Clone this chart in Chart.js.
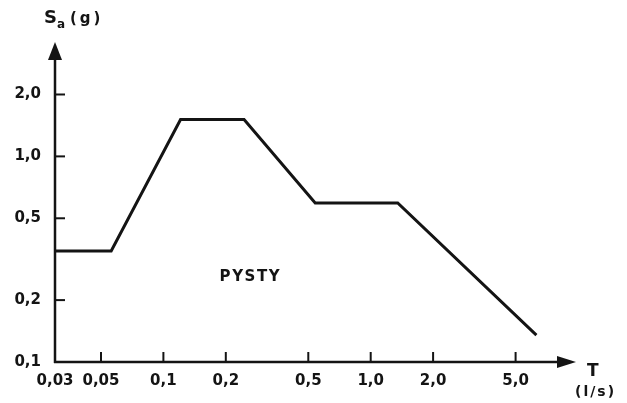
<!DOCTYPE html>
<html>
<head>
<meta charset="utf-8">
<script src="https://cdn.jsdelivr.net/npm/chart.js@4/dist/chart.umd.min.js"></script>
<style>
  body { margin: 0; background: #fff; }
  #wrap { width: 627px; height: 403px; }
</style>
</head>
<body>
<div id="wrap"><canvas id="spectrum" width="627" height="403"></canvas></div>
<script>
// Spectrum corner points (period T, spectral acceleration Sa)
const periods = [0.03, 0.056, 0.121, 0.245, 0.54, 1.35, 6.3];
const accels = [0.347, 0.347, 1.51, 1.51, 0.594, 0.594, 0.135];

// Axis ticks and their printed labels
const xTicks = [0.03, 0.05, 0.1, 0.2, 0.5, 1.0, 2.0, 5.0];
const xTickLabels = ['0,03', '0,05', '0,1', '0,2', '0,5', '1,0', '2,0', '5,0'];
const yTicks = [0.1, 0.2, 0.5, 1.0, 2.0];
const yTickLabels = ['0,1', '0,2', '0,5', '1,0', '2,0'];

const ink = '#141414';
const font = 'DejaVu Sans';

// axis lines with arrows, inner tick marks and free texts
const axesPlugin = {
    id: 'axesPlugin',
    afterDatasetsDraw(chart) {
        const ctx = chart.ctx;
        const area = chart.chartArea;
        const xs = chart.scales.x;
        const ys = chart.scales.y;

        ctx.save();
        ctx.strokeStyle = ink;
        ctx.fillStyle = ink;
        ctx.lineWidth = 2.5;
        ctx.lineCap = 'butt';

        // y axis
        ctx.beginPath();
        ctx.moveTo(area.left, area.bottom + 1);
        ctx.lineTo(area.left, area.top + 12);
        ctx.stroke();
        ctx.beginPath();
        ctx.moveTo(area.left, area.top);
        ctx.lineTo(area.left - 7, area.top + 18);
        ctx.lineTo(area.left + 7, area.top + 18);
        ctx.closePath();
        ctx.fill();

        // x axis
        ctx.beginPath();
        ctx.moveTo(area.left - 1, area.bottom);
        ctx.lineTo(area.right - 12, area.bottom);
        ctx.stroke();
        ctx.beginPath();
        ctx.moveTo(area.right - 2, area.bottom);
        ctx.lineTo(area.right - 21, area.bottom - 6);
        ctx.lineTo(area.right - 21, area.bottom + 6);
        ctx.closePath();
        ctx.fill();

        // tick marks, inside
        ctx.lineWidth = 2;
        yTicks.slice(1).forEach(v => {
            const py = ys.getPixelForValue(v);
            ctx.beginPath();
            ctx.moveTo(area.left, py);
            ctx.lineTo(area.left + 10, py);
            ctx.stroke();
        });
        xTicks.slice(1).forEach(v => {
            const px = xs.getPixelForValue(v);
            ctx.beginPath();
            ctx.moveTo(px, area.bottom);
            ctx.lineTo(px, area.bottom - 10);
            ctx.stroke();
        });

        // axis titles
        ctx.textBaseline = 'alphabetic';
        ctx.textAlign = 'left';
        ctx.font = 'bold 18px "' + font + '"';
        ctx.fillText('S', 44, 23);
        ctx.font = 'bold 12px "' + font + '"';
        ctx.fillText('a', 57, 28);
        ctx.font = 'bold 15px "' + font + '"';
        ctx.letterSpacing = '3px';
        ctx.fillText('(g)', 70, 23);

        ctx.font = 'bold 17px "' + font + '"';
        ctx.letterSpacing = '0px';
        ctx.fillText('T', 587, 376);
        ctx.font = 'bold 14px "' + font + '"';
        ctx.letterSpacing = '2px';
        ctx.fillText('(l/s)', 575, 396);

        // curve label
        ctx.font = 'bold 15px "' + font + '"';
        ctx.letterSpacing = '1.6px';
        ctx.textAlign = 'center';
        ctx.textBaseline = 'middle';
        ctx.fillText('PYSTY', xs.getPixelForValue(0.26) + 1, ys.getPixelForValue(0.26));
        ctx.restore();
    }
};

new Chart(document.getElementById('spectrum'), {
    type: 'scatter',
    data: {
        datasets: [{
            data: periods.map((t, i) => ({ x: t, y: accels[i] })),
            showLine: true,
            borderColor: ink,
            borderWidth: 3,
            pointRadius: 0,
            tension: 0,
            fill: false
        }]
    },
    options: {
        responsive: false,
        animation: false,
        layout: { padding: { top: 42, right: 49, left: 0, bottom: 0 } },
        plugins: {
            legend: { display: false },
            tooltip: { enabled: false }
        },
        scales: {
            x: {
                type: 'logarithmic',
                min: 0.03,
                max: 10,
                afterFit(scale) { scale.height = 41; },
                afterBuildTicks(scale) { scale.ticks = xTicks.map(v => ({ value: v })); },
                grid: { display: false, drawTicks: false },
                border: { display: false },
                ticks: {
                    autoSkip: false,
                    maxRotation: 0,
                    padding: 10,
                    color: ink,
                    font: { family: font, size: 15, weight: 'bold' },
                    callback: function(value) {
                        const i = xTicks.indexOf(value);
                        return i >= 0 ? xTickLabels[i] : '';
                    }
                }
            },
            y: {
                type: 'logarithmic',
                min: 0.1,
                max: 3.6,
                afterFit(scale) { scale.width = 55; },
                afterBuildTicks(scale) { scale.ticks = yTicks.map(v => ({ value: v })); },
                grid: { display: false, drawTicks: false },
                border: { display: false },
                ticks: {
                    autoSkip: false,
                    padding: 14,
                    color: ink,
                    font: { family: font, size: 15, weight: 'bold' },
                    callback: function(value) {
                        const i = yTicks.indexOf(value);
                        return i >= 0 ? yTickLabels[i] : '';
                    }
                }
            }
        }
    },
    plugins: [axesPlugin]
});
</script>
</body>
</html>
